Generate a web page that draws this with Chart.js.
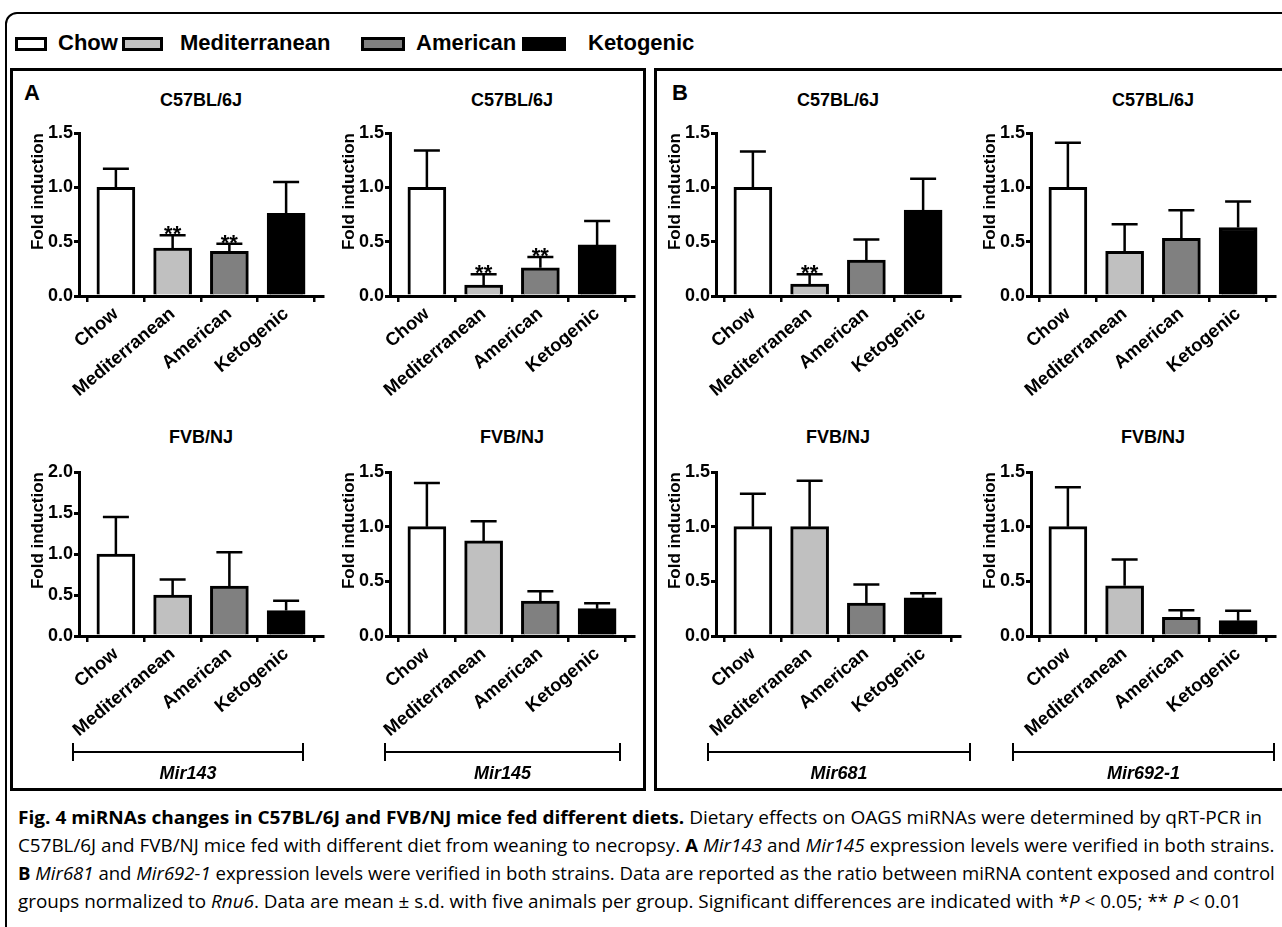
<!DOCTYPE html>
<html><head><meta charset="utf-8">
<script src="https://cdn.jsdelivr.net/npm/chart.js@4.4.1/dist/chart.umd.min.js"></script>
<style>
body{margin:0;width:1282px;height:927px;background:#fff;position:relative;overflow:hidden;font-family:"Liberation Sans",Arial,sans-serif;color:#000;}
.abs{position:absolute}
.frame{left:5px;top:12px;width:1290px;height:940px;border:2px solid #000;border-radius:12px;box-sizing:border-box}
.box{border:3px solid #000;box-sizing:border-box}
.lg{font-weight:bold;font-size:22px;top:30px;line-height:26px;white-space:nowrap}
.sw{top:37px;height:14px;border:3px solid #000;box-sizing:border-box}
.ttl{font-weight:bold;font-size:18px;width:200px;text-align:center;line-height:20px}
.pl{font-weight:bold;font-size:22px}
canvas{position:absolute}
.br{height:2px;background:#000;top:751px}
.bt{width:2px;height:18px;background:#000;top:743px}
.bl{font-weight:bold;font-style:italic;font-size:18px;top:763px;width:200px;text-align:center}
.cap{left:18px;font-family:"Open Sans",sans-serif;font-size:18.5px;white-space:nowrap;transform-origin:0 50%;line-height:24px}
</style></head><body>
<div class="abs frame"></div>
<div class="abs sw" style="left:15px;width:32px;background:#fff"></div>
<div class="abs lg" style="left:58px">Chow</div>
<div class="abs sw" style="left:122px;width:41px;background:#c0c0c0"></div>
<div class="abs lg" style="left:180px">Mediterranean</div>
<div class="abs sw" style="left:361px;width:44px;background:#808080"></div>
<div class="abs lg" style="left:416px">American</div>
<div class="abs sw" style="left:522px;width:44px;background:#000"></div>
<div class="abs lg" style="left:588px">Ketogenic</div>

<div class="abs box" style="left:10px;top:68px;width:636px;height:723px"></div>
<div class="abs box" style="left:654px;top:68px;width:640px;height:723px"></div>
<div class="abs pl" style="left:24px;top:80px">A</div>
<div class="abs pl" style="left:672px;top:80px">B</div>

<div class="abs cap" id="c1" style="top:805px"><b>Fig. 4 miRNAs changes in C57BL/6J and FVB/NJ mice fed different diets.</b> Dietary effects on OAGS miRNAs were determined by qRT-PCR in</div>
<div class="abs cap" id="c2" style="top:833px">C57BL/6J and FVB/NJ mice fed with different diet from weaning to necropsy. <b>A</b> <i>Mir143</i> and <i>Mir145</i> expression levels were verified in both strains.</div>
<div class="abs cap" id="c3" style="top:861px"><b>B</b> <i>Mir681</i> and <i>Mir692-1</i> expression levels were verified in both strains. Data are reported as the ratio between miRNA content exposed and control</div>
<div class="abs cap" id="c4" style="top:889px">groups normalized to <i>Rnu6</i>. Data are mean ± s.d. with five animals per group. Significant differences are indicated with *<i>P</i> &lt; 0.05; ** <i>P</i> &lt; 0.01</div>

<script>
// ---- data ----
const categories = ['Chow', 'Mediterranean', 'American', 'Ketogenic'];
const barColors = ['#ffffff', '#c0c0c0', '#808080', '#000000'];

const mir143C57 = [1.00, 0.44, 0.41, 0.76];
const mir143C57Err = [1.17, 0.56, 0.48, 1.05];
const mir143C57Sig = ['', '**', '**', ''];

const mir145C57 = [1.00, 0.10, 0.26, 0.47];
const mir145C57Err = [1.34, 0.20, 0.36, 0.69];
const mir145C57Sig = ['', '**', '**', ''];

const mir681C57 = [1.00, 0.11, 0.33, 0.79];
const mir681C57Err = [1.33, 0.20, 0.52, 1.08];
const mir681C57Sig = ['', '**', '', ''];

const mir692C57 = [1.00, 0.41, 0.53, 0.63];
const mir692C57Err = [1.41, 0.66, 0.79, 0.87];
const mir692C57Sig = ['', '', '', ''];

const mir143FVB = [1.00, 0.50, 0.61, 0.31];
const mir143FVBErr = [1.45, 0.69, 1.02, 0.43];
const mir143FVBSig = ['', '', '', ''];

const mir145FVB = [1.00, 0.87, 0.32, 0.25];
const mir145FVBErr = [1.40, 1.05, 0.41, 0.30];
const mir145FVBSig = ['', '', '', ''];

const mir681FVB = [1.00, 1.00, 0.30, 0.35];
const mir681FVBErr = [1.30, 1.42, 0.47, 0.39];
const mir681FVBSig = ['', '', '', ''];

const mir692FVB = [1.00, 0.46, 0.17, 0.14];
const mir692FVBErr = [1.36, 0.70, 0.235, 0.23];
const mir692FVBSig = ['', '', '', ''];

const yTicks15 = [0, 0.5, 1.0, 1.5];
const yTicks20 = [0, 0.5, 1.0, 1.5, 2.0];

const strainTop = 'C57BL/6J';
const strainBottom = 'FVB/NJ';
const mirNames = ['Mir143', 'Mir145', 'Mir681', 'Mir692-1'];

// ---- layout ----
const axisX = [79, 390, 716, 1031];
const plotW = 244;
const rowTop = [133, 472];
const rowBottom = [296, 636];
const yW = 51, padTop = 14, padRight = 6, xH = 110;
const FONT = '"Liberation Sans", Arial, sans-serif';

const errPlugin = {
  id: 'errbars',
  afterDatasetsDraw(chart, args, opts) {
    const ctx = chart.ctx;
    const meta = chart.getDatasetMeta(0);
    const ys = chart.scales.y;
    ctx.save();
    ctx.strokeStyle = '#000';
    ctx.lineWidth = 2.5;
    meta.data.forEach((bar, i) => {
      const top = ys.getPixelForValue(opts.err[i]);
      ctx.beginPath();
      ctx.moveTo(bar.x, bar.y);
      ctx.lineTo(bar.x, top);
      ctx.moveTo(bar.x - 13, top);
      ctx.lineTo(bar.x + 13, top);
      ctx.stroke();
      if (opts.sig[i]) {
        ctx.fillStyle = '#000';
        ctx.font = 'bold 22px ' + FONT;
        ctx.textAlign = 'center';
        ctx.textBaseline = 'alphabetic';
        ctx.fillText(opts.sig[i], bar.x, top + 6);
      }
    });
    ctx.restore();
  }
};

function addTitle(text, cx, y) {
  const d = document.createElement('div');
  d.className = 'abs ttl';
  d.style.left = (cx - 100) + 'px';
  d.style.top = y + 'px';
  d.textContent = text;
  document.body.appendChild(d);
}

function makeChart(col, row, vals, errs, sig, ticks) {
  const ax = axisX[col];
  const left = ax - yW;
  const top = rowTop[row] - padTop;
  const w = yW + plotW + padRight;
  const h = padTop + (rowBottom[row] - rowTop[row]) + xH;
  const cv = document.createElement('canvas');
  cv.width = w; cv.height = h;
  cv.style.left = left + 'px'; cv.style.top = top + 'px';
  cv.style.width = w + 'px'; cv.style.height = h + 'px';
  document.body.appendChild(cv);
  addTitle(row === 0 ? strainTop : strainBottom, ax + plotW / 2, row === 0 ? 90 : 427);
  const ymax = ticks[ticks.length - 1];
  new Chart(cv.getContext('2d'), {
    type: 'bar',
    data: {
      datasets: [{
        data: vals.map((v, i) => ({ x: i, y: v })),
        backgroundColor: barColors,
        borderColor: '#000',
        borderWidth: 3,
        barThickness: 38
      }]
    },
    options: {
      responsive: false,
      animation: false,
      devicePixelRatio: 1,
      layout: { padding: { top: padTop, right: padRight, left: 0, bottom: 0 } },
      plugins: { legend: { display: false }, tooltip: { enabled: false }, errbars: { err: errs, sig: sig } },
      scales: {
        x: {
          type: 'linear', min: -0.65, max: 3.65, offset: false,
          grid: { display: true, drawOnChartArea: false, drawTicks: true, tickLength: 6, color: '#000', lineWidth: 2.5 },
          border: { display: true, color: '#000', width: 3 },
          ticks: {
            stepSize: 1, includeBounds: false, autoSkip: false, maxRotation: 40, minRotation: 40,
            color: '#000', font: { size: 18.5, weight: 'bold', family: FONT }, padding: 1,
            callback: (v) => (Number.isInteger(v) && categories[v] !== undefined) ? categories[v] : ''
          },
          afterFit: (s) => { s.height = xH; }
        },
        y: {
          min: 0, max: ymax,
          grid: { display: true, drawOnChartArea: false, drawTicks: true, tickLength: 5, color: '#000', lineWidth: 3 },
          border: { display: true, color: '#000', width: 3 },
          ticks: {
            stepSize: 0.5, color: '#000', padding: 1,
            font: { size: 18, weight: 'bold', family: FONT },
            callback: (v) => ticks.includes(v) ? v.toFixed(1) : ''
          },
          title: { display: true, text: 'Fold induction', color: '#000', padding: 0, align: 'end',
            font: { size: 17, weight: 'bold', family: FONT } },
          afterFit: (s) => { s.width = yW; }
        }
      }
    },
    plugins: [errPlugin]
  });
}

makeChart(0, 0, mir143C57, mir143C57Err, mir143C57Sig, yTicks15);
makeChart(1, 0, mir145C57, mir145C57Err, mir145C57Sig, yTicks15);
makeChart(2, 0, mir681C57, mir681C57Err, mir681C57Sig, yTicks15);
makeChart(3, 0, mir692C57, mir692C57Err, mir692C57Sig, yTicks15);
makeChart(0, 1, mir143FVB, mir143FVBErr, mir143FVBSig, yTicks20);
makeChart(1, 1, mir145FVB, mir145FVBErr, mir145FVBSig, yTicks15);
makeChart(2, 1, mir681FVB, mir681FVBErr, mir681FVBSig, yTicks15);
makeChart(3, 1, mir692FVB, mir692FVBErr, mir692FVBSig, yTicks15);

// brackets
const brackets = [[72, 304], [384, 621], [707, 971], [1012, 1275]];
brackets.forEach((b, i) => {
  const l = document.createElement('div'); l.className = 'abs br';
  l.style.left = b[0] + 'px'; l.style.width = (b[1] - b[0]) + 'px'; document.body.appendChild(l);
  [b[0], b[1] - 2].forEach(x => { const t = document.createElement('div'); t.className = 'abs bt'; t.style.left = x + 'px'; document.body.appendChild(t); });
  const lb = document.createElement('div'); lb.className = 'abs bl';
  lb.style.left = ((b[0] + b[1]) / 2 - 100) + 'px'; lb.textContent = mirNames[i]; document.body.appendChild(lb);
});

// fit caption lines
const targets = { c1: 1244, c2: 1257, c3: 1257 };
let k = 1;
['c1', 'c2', 'c3'].forEach(id => {
  const el = document.getElementById(id);
  const s = targets[id] / el.scrollWidth;
  el.style.transform = 'scaleX(' + s + ')';
  if (id === 'c2') k = s;
});
document.getElementById('c4').style.transform = 'scaleX(' + k + ')';
</script>
</body></html>
